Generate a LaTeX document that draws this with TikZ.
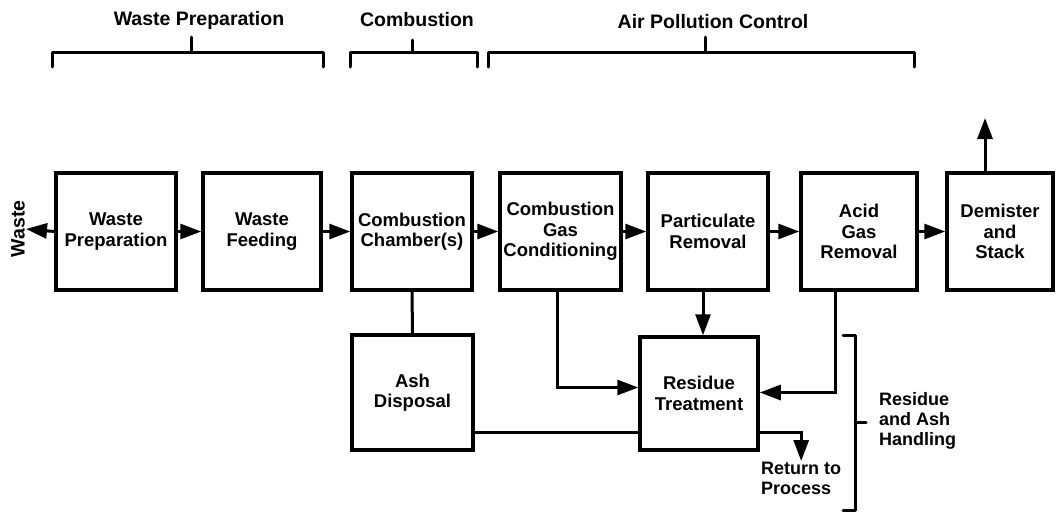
\documentclass[tikz,border=0pt]{standalone}
\usepackage{fontspec}
\setmainfont{Liberation Sans}
\usetikzlibrary{arrows.meta}
\begin{document}
\begin{tikzpicture}[x=1pt,y=-1pt,
  box/.style={draw,line width=3.5pt,inner sep=1pt,align=center,font=\fontsize{18.5}{20.5}\selectfont\bfseries},
  conn/.style={line width=3pt},
  arr/.style={line width=3pt,-{Triangle[length=21pt,width=15pt]}},
  brk/.style={line width=3pt,line cap=round,line join=round},
  lbl/.style={font=\fontsize{19.5}{22}\selectfont\bfseries,inner sep=1pt},
  txt/.style={font=\fontsize{18}{20}\selectfont\bfseries,align=left,inner sep=1pt}]
\useasboundingbox (0,0) rectangle (1057,512);
% top row
\node[box,minimum width=120,minimum height=117] (wp) at (116,231.5) {Waste\\Preparation};
\node[box,minimum width=118,minimum height=117] (wf) at (262,231.5) {Waste\\Feeding};
\node[box,minimum width=120,minimum height=117] (cc) at (412,231.5) {Combustion\\Chamber(s)};
\node[box,minimum width=121,minimum height=117] (cg) at (560.5,231.5) {Combustion\\Gas\\Conditioning};
\node[box,minimum width=120,minimum height=117] (pr) at (708,231.5) {Particulate\\Removal};
\node[box,minimum width=116,minimum height=117] (ag) at (859,231.5) {Acid\\Gas\\Removal};
\node[box,minimum width=106,minimum height=117] (ds) at (1000,231.5) {Demister\\and\\Stack};
% bottom row
\node[box,minimum width=121,minimum height=115] (ad) at (412.5,392.5) {Ash\\Disposal};
\node[box,minimum width=118,minimum height=113] (rt) at (699,393.5) {Residue\\Treatment};
% labels
\node[lbl,rotate=90] (waste) at (18,229) {Waste};
\node[txt,anchor=north west] (ret) at (760,461) {Return to\\Process};
\node[txt,anchor=west] (rah) at (878,421) {Residue\\and Ash\\Handling};
\node[lbl] (l1) at (199,20) {Waste Preparation};
\node[lbl] (l2) at (417,20) {Combustion};
\node[lbl] (l3) at (713,22) {Air Pollution Control};
\coordinate (stack) at (985,118);
% main flow
\draw[arr] (wp.west) -- (waste.south);
\draw[arr] (wp.east) -- (wf.west);
\draw[arr] (wf.east) -- (cc.west);
\draw[arr] (cc.east) -- (cg.west);
\draw[arr] (cg.east) -- (pr.west);
\draw[arr] (pr.east) -- (ag.west);
\draw[arr] (ag.east) -- (ds.west);
\draw[arr] (stack |- ds.north) -- (stack);
% lower connections
\draw[conn] (cc.south) -- (ad.north);
\draw[arr] ([xshift=-3pt]cg.south) |- ([yshift=6pt]rt.west);
\draw[arr] ([xshift=-5pt]pr.south) -- ([xshift=-5pt]pr.south |- rt.north);
\draw[arr] ([xshift=-24pt]ag.south) |- ([yshift=1pt]rt.east);
\draw[conn] ([yshift=-39.5pt]ad.east) -- ([yshift=-39.5pt]ad.east -| rt.west);
\draw[arr] ([yshift=-38.5pt]rt.east) -| (ret.north);
% brackets
\draw[brk] (52,67) -- (52,52) -- (323,52) -- (323,67);
\draw[brk] (191,52) -- (191,37);
\draw[brk] (350,67) -- (350,52) -- (477,52) -- (477,67);
\draw[brk] (412,52) -- (412,40);
\draw[brk] (488,67) -- (488,52) -- (914,52) -- (914,67);
\draw[brk] (705,52) -- (705,37);
\draw[brk] (843,335) -- (855,335) -- (855,510) -- (843,510);
\draw[brk] (855,422) -- (866,422);
\end{tikzpicture}
\end{document}
